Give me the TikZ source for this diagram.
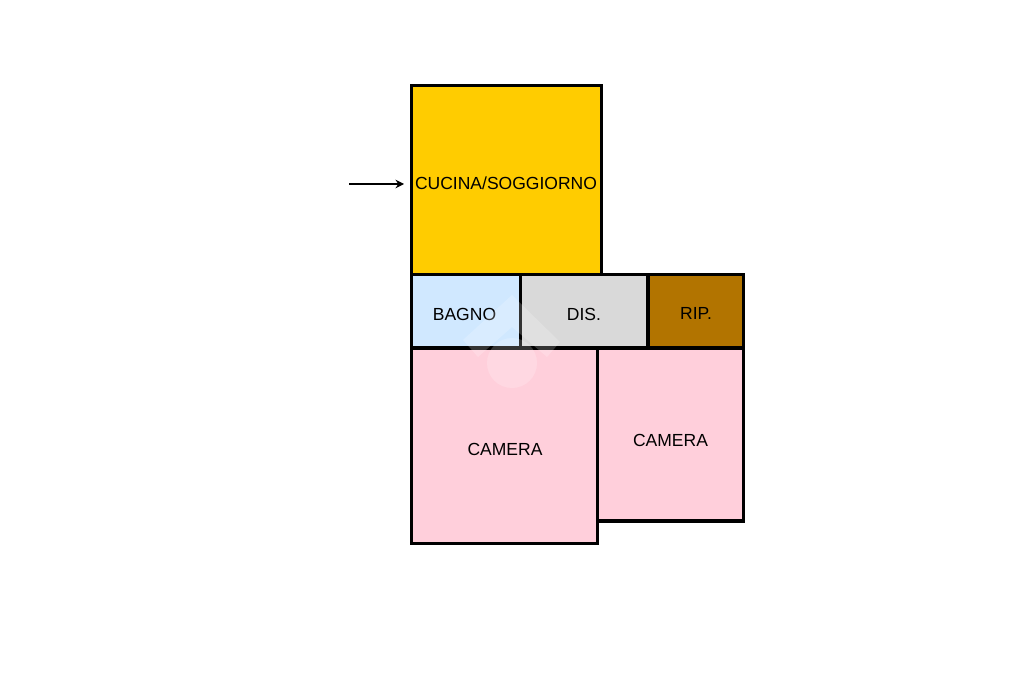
\documentclass[tikz,border=0pt]{standalone}
\usepackage{fontspec}
\setmainfont{Liberation Sans}
\usepackage{tikz}
\usetikzlibrary{arrows.meta}
\definecolor{kitchen}{RGB}{255,204,0}
\definecolor{bath}{RGB}{208,232,255}
\definecolor{hall}{RGB}{217,217,217}
\definecolor{store}{RGB}{178,116,0}
\definecolor{bedroom}{RGB}{255,207,219}
\tikzstyle{room} = [draw=black, line width=2.3pt, line join=miter]
\tikzstyle{label} = [font=\fontsize{12.45pt}{15pt}\selectfont, inner sep=0pt, text=black]
\tikzstyle{arrow} = [line width=1pt, -{Stealth[length=6pt,width=6pt]}]

\begin{document}
\begin{tikzpicture}[x=0.025cm, y=-0.025cm]
    \useasboundingbox (0,0) rectangle (1024,682);
    \fill[white] (0,0) rectangle (1024,682);
    % rooms
    \draw[room, fill=kitchen] (411.5,85.5) rectangle (601.5,274.5);
    \draw[room, fill=bedroom] (597.5,348) rectangle (743.5,521);
    \draw[room, fill=bedroom] (411.5,348) rectangle (597.5,543.3);
    \draw[room, fill=bath] (411.5,274.5) rectangle (520.5,348);
    \draw[room, fill=hall] (520.5,274.5) rectangle (648,348);
    \draw[room, fill=store] (648,274.5) rectangle (743.5,348);
    % labels
    \node[label] (cucina) at (506,183) {CUCINA/SOGGIORNO};
    \node[label] (bagno) at (464.5,314) {BAGNO};
    \node[label] (dis) at (584,314) {DIS.};
    \node[label] (rip) at (696,313) {RIP.};
    \node[label] (cameraA) at (505,449.5) {CAMERA};
    \node[label] (cameraB) at (670.5,440.5) {CAMERA};
    % entrance
    \coordinate (entryA) at (349,184);
    \coordinate (entryB) at (404,184);
    \draw[arrow] (entryA) -- (entryB);
    % watermark
    \fill[white, opacity=.2] (512,295) -- (560,342) -- (547,357) -- (512,327) -- (478,357) -- (463,340) -- cycle;
    \fill[white, opacity=.2] (512,363) circle (25);
\end{tikzpicture}
\end{document}
